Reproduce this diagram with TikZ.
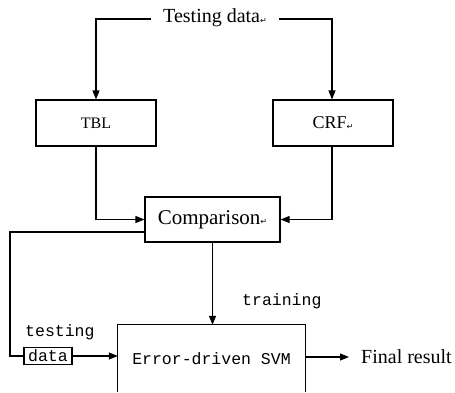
\documentclass[tikz,border=0pt]{standalone}
\usepackage{fontspec}
\setmainfont{Liberation Serif}
\newfontfamily\monof{Liberation Mono}
\newfontfamily\dejav{DejaVu Sans}
\usetikzlibrary{arrows.meta}
\newcommand{\retmark}{{\dejav\fontsize{8}{8}\selectfont\raisebox{-0.1ex}{↵}}}
\begin{document}
\begin{tikzpicture}[x=1pt,y=-1pt,
  box/.style={draw,line width=1.1pt,inner sep=0pt},
  conn/.style={line width=1.2pt},
  arr/.style={conn,-{Triangle[length=9pt,width=7pt]}},
  serif/.style={font=\fontsize{20}{22}\selectfont},
  mono/.style={font=\monof\fontsize{16.5}{18}\selectfont}]
\useasboundingbox (0,0) rectangle (455,392);
\node[serif,inner sep=0pt] (td) at (215,18) {Testing data\retmark};
\node[box,minimum width=120pt,minimum height=46pt,font=\fontsize{16}{18}\selectfont] (tbl) at (96,123) {TBL};
\node[box,minimum width=120pt,minimum height=46pt,font=\fontsize{18}{20}\selectfont] (crf) at (333,123) {CRF\retmark};
\node[box,minimum width=135pt,minimum height=45pt,font=\fontsize{21}{23}\selectfont] (cmp) at (212.5,219.5) {Comparison\retmark};
\node[draw=none,minimum width=187pt,minimum height=67pt,mono,inner sep=0pt] (svm) at (211.5,358.5) {Error-driven SVM};
\draw[line width=1.1pt] (svm.south west) -- (svm.north west) -- (svm.north east) -- (svm.south east);
\node[box,minimum width=48pt,minimum height=17pt,mono] (data) at (48,356) {data};
\node[mono,anchor=south west,inner sep=0pt] (testing) at (25,340) {testing};
\node[mono,anchor=west,inner sep=0pt] (training) at (242,301) {training};
\node[serif,anchor=west,inner sep=0pt] (fin) at (361,357) {Final result};
\coordinate (tl) at (96,19);
\coordinate (tr) at (332,19);
\draw[arr] (td.west |- tl) ++(-12,0) -- (tl) -- (tbl.north -| tl);
\draw[arr] (td.east |- tr) ++(12,0) -- (tr) -- (crf.north -| tr);
\draw[arr] (tbl.south) -- (tbl.south |- cmp.west) -- (cmp.west);
\draw[arr] (crf.south -| tr) -- (tr |- cmp.east) -- (cmp.east);
\coordinate (lc) at (10,232);
\draw[conn] (cmp.west |- lc) -- (lc) -- (lc |- data.west) -- (data.west);
\draw[arr] (data.east) -- (svm.west |- data.east);
\draw[arr] (cmp.south) -- (svm.north -| cmp.south);
\draw[arr] (svm.east |- fin.west) -- ([xshift=-12pt]fin.west);
\end{tikzpicture}
\end{document}
